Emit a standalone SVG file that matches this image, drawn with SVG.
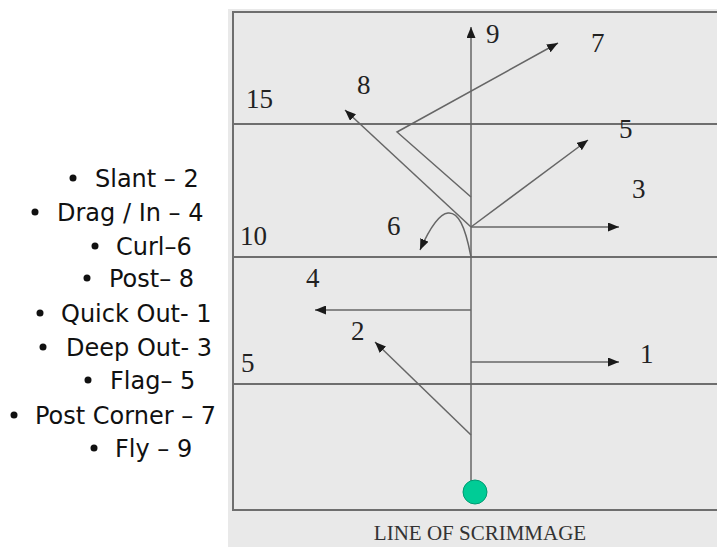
<svg xmlns="http://www.w3.org/2000/svg" width="717" height="547" viewBox="0 0 717 547">
  <defs>
    <marker id="arr" viewBox="0 0 11 9" refX="11" refY="4.5" markerWidth="11" markerHeight="9" markerUnits="userSpaceOnUse" orient="auto">
      <path d="M0,0 L11,4.5 L0,9 Z" fill="#1a1a1a"/>
    </marker>
    <style>
      .fieldline { stroke: #6e6e6e; stroke-width: 2; fill: none; }
      .route { stroke: #666; stroke-width: 1.5; fill: none; }
      .yd { font-family: "Liberation Serif", "Times New Roman", serif; font-size: 27px; fill: #222; }
      .cap { font-family: "Liberation Serif", "Times New Roman", serif; font-size: 21px; fill: #333; }
      .lst { font-family: "DejaVu Sans", Verdana, sans-serif; font-size: 24px; fill: #111; }
      .dot { fill: #111; }
    </style>
  </defs>
  <rect x="0" y="0" width="717" height="547" fill="#ffffff"/>

  <g id="legend">
    <circle class="dot" cx="73" cy="178" r="3.5"/><text class="lst" x="95" y="187">Slant – 2</text>
    <circle class="dot" cx="35" cy="212" r="3.5"/><text class="lst" x="57" y="221">Drag / In – 4</text>
    <circle class="dot" cx="95" cy="246" r="3.5"/><text class="lst" x="116" y="255">Curl–6</text>
    <circle class="dot" cx="87" cy="278" r="3.5"/><text class="lst" x="109" y="287">Post– 8</text>
    <circle class="dot" cx="40" cy="313" r="3.5"/><text class="lst" x="61" y="322">Quick Out- 1</text>
    <circle class="dot" cx="43" cy="347" r="3.5"/><text class="lst" x="66" y="356">Deep Out- 3</text>
    <circle class="dot" cx="88" cy="380" r="3.5"/><text class="lst" x="110" y="389">Flag– 5</text>
    <circle class="dot" cx="14" cy="415" r="3.5"/><text class="lst" x="35" y="424">Post Corner – 7</text>
    <circle class="dot" cx="94" cy="448" r="3.5"/><text class="lst" x="115" y="457">Fly – 9</text>
  </g>

  <g id="field">
    <rect x="228" y="9" width="489" height="538" fill="#e9e9e9"/>
    <path class="fieldline" d="M717,12 H233 V510 H717"/>
    <line class="fieldline" x1="233" y1="124" x2="717" y2="124"/>
    <line class="fieldline" x1="233" y1="257" x2="717" y2="257"/>
    <line class="fieldline" x1="233" y1="384" x2="717" y2="384"/>
    <text class="yd" x="246" y="108">15</text>
    <text class="yd" x="240" y="245">10</text>
    <text class="yd" x="241" y="372">5</text>
    <text class="cap" x="480" y="540" text-anchor="middle">LINE OF SCRIMMAGE</text>
  </g>

  <g id="routes">
    <path class="route" d="M471,482 V27" marker-end="url(#arr)"/>
    <path class="route" d="M471,362 H619" marker-end="url(#arr)"/>
    <path class="route" d="M471,435 L375,342" marker-end="url(#arr)"/>
    <path class="route" d="M471,227 H619" marker-end="url(#arr)"/>
    <path class="route" d="M471,310 H315" marker-end="url(#arr)"/>
    <path class="route" d="M471,227 L588,140" marker-end="url(#arr)"/>
    <path class="route" d="M471,257 C465,225 458,212 448,213 C438,214 428,232 420,250" marker-end="url(#arr)"/>
    <path class="route" d="M471,197 L397,132 L558,43" marker-end="url(#arr)"/>
    <path class="route" d="M471,227 L345,110" marker-end="url(#arr)"/>
  </g>

  <g id="route-labels">
    <text class="yd" x="486" y="43">9</text>
    <text class="yd" x="591" y="52">7</text>
    <text class="yd" x="357" y="94">8</text>
    <text class="yd" x="619" y="138">5</text>
    <text class="yd" x="632" y="198">3</text>
    <text class="yd" x="387" y="235">6</text>
    <text class="yd" x="306" y="287">4</text>
    <text class="yd" x="351" y="340">2</text>
    <text class="yd" x="640" y="363">1</text>
  </g>

  <g id="receiver">
    <circle cx="475" cy="492" r="12" fill="#00cc96" stroke="#009a72" stroke-width="1"/>
  </g>
</svg>
